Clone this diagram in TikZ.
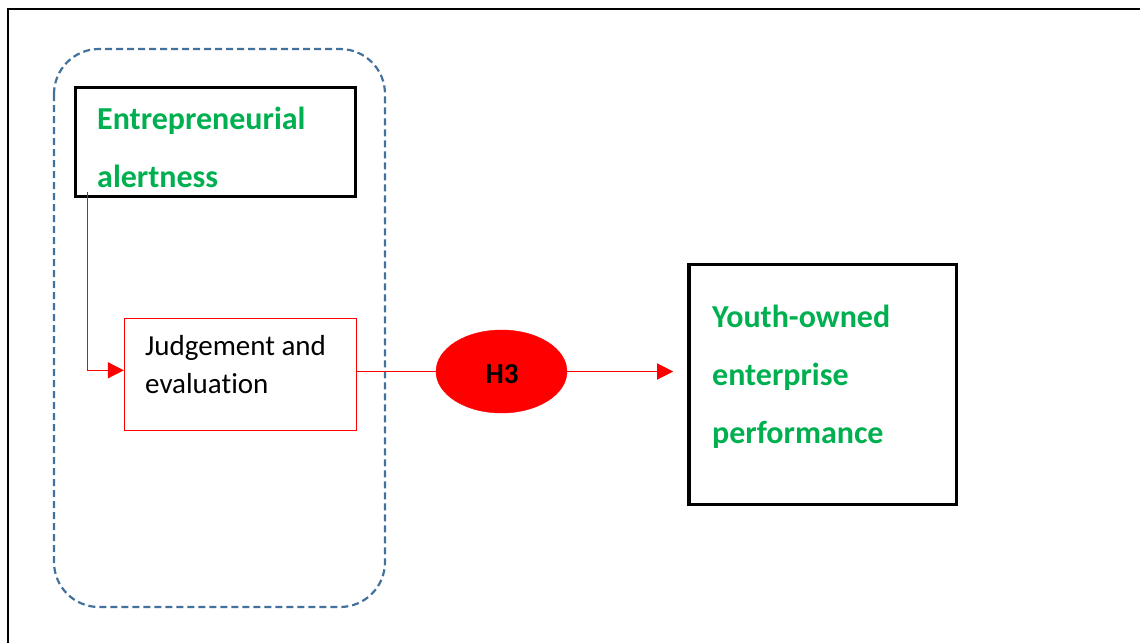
\documentclass[tikz,border=0pt]{standalone}
\usepackage{fontspec}
\setmainfont{Carlito}[Ligatures=NoCommon]
\usetikzlibrary{arrows.meta,shapes.geometric}
\definecolor{dashblue}{RGB}{65,113,156}
\definecolor{txtgreen}{RGB}{0,176,80}
\definecolor{myred}{RGB}{255,0,0}
\begin{document}
\begin{tikzpicture}[x=1pt,y=-1pt,
  framebox/.style={draw=black,line width=3.6pt,rectangle,inner sep=0pt},
  redbox/.style={draw=myred,line width=1.3pt,rectangle,inner sep=0pt},
  groupbox/.style={draw=dashblue,line width=2.2pt,dash pattern=on 7pt off 4pt,rounded corners=45pt},
  greentxt/.style={text=txtgreen,font=\fontsize{32}{38}\selectfont\bfseries,inner sep=0pt,anchor=base west},
  blacktxt/.style={text=black,font=\fontsize{29}{35}\selectfont,inner sep=0pt,anchor=base west},
  hyp/.style={ellipse,fill=myred,draw=myred,minimum width=131pt,minimum height=83pt,inner sep=0pt},
  redline/.style={draw=myred,line width=1.3pt},
  redarrow/.style={draw=myred,line width=1.3pt,-{Triangle[length=16pt,width=16pt]}}]
\useasboundingbox (0,0) rectangle (1140,643);
% outer frame
\draw[line width=1.2pt] (8,643) -- (8,9) -- (1140,9);
% dashed group
\draw[groupbox] (54,49) rectangle (385,607);
% boxes
\node[framebox,minimum width=280pt,minimum height=109pt] (ea) at (215.5,142) {};
\node[redbox,minimum width=232pt,minimum height=112pt] (je) at (240.5,374.3) {};
\node[framebox,minimum width=267.5pt,minimum height=240pt] (yo) at (822.75,384.5) {};
\node[hyp] (h3) at (501.5,371.5) {};
% texts
\node[greentxt] (ea1) at (97,129) {Entrepreneurial};
\node[greentxt] (ea2) at (97,187) {alertness};
\node[blacktxt] (je1) at (145,355) {Judgement and};
\node[blacktxt] (je2) at (145,393) {evaluation};
\node[text=black,font=\fontsize{29}{34}\selectfont\bfseries,inner sep=0pt,anchor=base] (h3t) at (502,383) {H3};
\node[greentxt] (yo1) at (712,327) {Youth-owned};
\node[greentxt] (yo2) at (712,385) {enterprise};
\node[greentxt] (yo3) at (712,443) {performance};
% connectors
\draw[redarrow] ([xshift=14pt,yshift=6pt]ea.south west) |- ([yshift=4pt]je.west);
\draw[redline] (h3.west) -- (h3.west -| je.east);
\draw[redarrow,shorten >=14pt] (h3.east) -- (h3.east -| yo.west);
\end{tikzpicture}
\end{document}
